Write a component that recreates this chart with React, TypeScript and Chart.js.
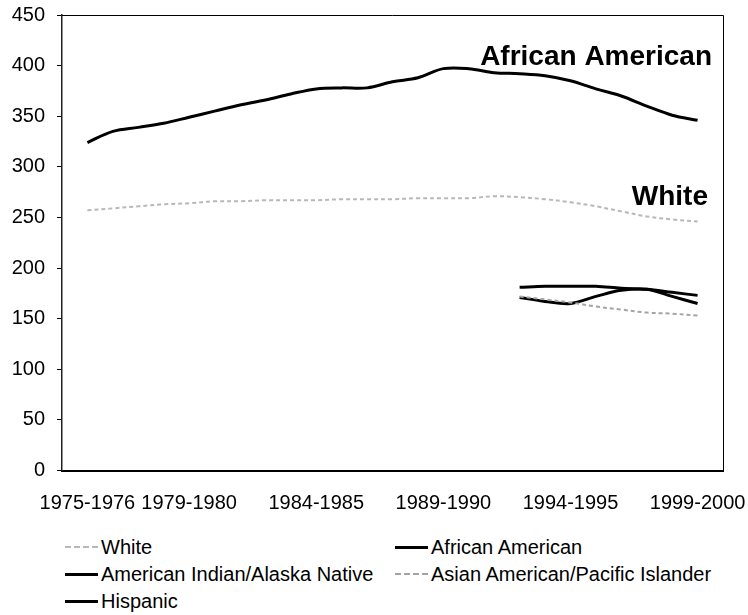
import React, { useEffect, useRef } from 'react';
import { Chart, registerables } from 'chart.js';

Chart.register(...registerables);

// ---- data ----
const schoolYears = [
  '1975-1976', '1976-1977', '1977-1978', '1978-1979', '1979-1980',
  '1980-1981', '1981-1982', '1982-1983', '1983-1984', '1984-1985',
  '1985-1986', '1986-1987', '1987-1988', '1988-1989', '1989-1990',
  '1990-1991', '1991-1992', '1992-1993', '1993-1994', '1994-1995',
  '1995-1996', '1996-1997', '1997-1998', '1998-1999', '1999-2000',
];
const minoritySchoolYears = [
  '1992-1993', '1993-1994', '1994-1995', '1995-1996',
  '1996-1997', '1997-1998', '1998-1999', '1999-2000',
];

const white = [257, 259, 261, 263, 264, 266, 266, 267, 267, 267, 268, 268, 268, 269, 269, 269, 271, 270, 268, 265, 261, 256, 251, 248, 246];
const africanAmerican = [324, 335, 339, 343, 349, 355, 361, 366, 372, 377, 378, 378, 384, 388, 397, 397, 393, 392, 390, 385, 377, 370, 360, 351, 346];
const americanIndian = [181, 182, 182, 182, 180, 179, 176, 173];
const asianAmerican = [172, 169, 166, 162, 159, 156, 155, 153];
const hispanic = [171, 167, 165, 172, 178, 179, 172, 165];

const xTickLabels = ['1975-1976', '1979-1980', '1984-1985', '1989-1990', '1994-1995', '1999-2000'];
const annotationLabels = ['African American', 'White'];

const seriesNames = [
  'White',
  'African American',
  'American Indian/Alaska Native',
  'Asian American/Pacific Islander',
  'Hispanic',
];

// ---- helpers ----
const startYear = (s: string) => parseInt(s.slice(0, 4), 10);
const toPoints = (years: string[], vals: number[]) =>
  years.map((y, i) => ({ x: startYear(y), y: vals[i] }));

const FONT = '"Liberation Sans", Arial, Helvetica, sans-serif';

const styles = [
  { color: '#b8b8b8', width: 2, dash: [4, 3] },
  { color: '#000', width: 3, dash: [] as number[] },
  { color: '#000', width: 3, dash: [] as number[] },
  { color: '#a4a4a4', width: 2, dash: [4, 3] },
  { color: '#000', width: 3, dash: [] as number[] },
];

const framePlugin = {
  id: 'frame',
  beforeDatasetsDraw(chart: any) {
    const { ctx, chartArea } = chart;
    ctx.save();
    ctx.strokeStyle = '#000';
    ctx.lineWidth = 1;
    ctx.beginPath();
    ctx.moveTo(chartArea.left, chartArea.top + 0.5);
    ctx.lineTo(chartArea.right + 0.5, chartArea.top + 0.5);
    ctx.lineTo(chartArea.right + 0.5, chartArea.bottom);
    ctx.stroke();
    ctx.restore();
  },
};

const annotationPlugin = {
  id: 'seriesAnnotations',
  afterDatasetsDraw(chart: any) {
    const { ctx, chartArea } = chart;
    ctx.save();
    ctx.font = `bold 28px ${FONT}`;
    ctx.fillStyle = '#000';
    ctx.textAlign = 'right';
    ctx.textBaseline = 'alphabetic';
    ctx.fillText(annotationLabels[0], chartArea.right - 11, chartArea.top + 50);
    ctx.fillText(annotationLabels[1], chartArea.right - 15, chartArea.top + 190);
    ctx.restore();
  },
};

export default function App() {
  const canvasRef = useRef<HTMLCanvasElement | null>(null);

  useEffect(() => {
    if (!canvasRef.current) return;
    const seriesData = [
      toPoints(schoolYears, white),
      toPoints(schoolYears, africanAmerican),
      toPoints(minoritySchoolYears, americanIndian),
      toPoints(minoritySchoolYears, asianAmerican),
      toPoints(minoritySchoolYears, hispanic),
    ];
    const chart = new Chart(canvasRef.current, {
      type: 'line',
      data: {
        datasets: seriesNames.map((name, i) => ({
          label: name,
          data: seriesData[i],
          borderColor: styles[i].color,
          borderWidth: styles[i].width,
          borderDash: styles[i].dash,
          pointRadius: 0,
          tension: 0.35,
          fill: false,
        })),
      },
      options: {
        responsive: false,
        animation: false,
        devicePixelRatio: 1,
        layout: { padding: { top: 15, right: 25, left: 0, bottom: 0 } },
        plugins: {
          legend: { display: false },
          tooltip: { enabled: false },
        },
        scales: {
          x: {
            type: 'linear',
            min: 1974,
            max: 2000,
            afterBuildTicks: (scale: any) => {
              scale.ticks = xTickLabels.map((l) => ({ value: startYear(l) }));
            },
            afterFit: (scale: any) => {
              scale.height = 54.5;
              scale.paddingLeft = 0;
              scale.paddingRight = 0;
            },
            grid: { display: false },
            border: { display: true, color: '#000', width: 2 },
            ticks: {
              autoSkip: false,
              maxRotation: 0,
              padding: 13,
              color: '#000',
              font: { family: FONT, size: 20 },
              callback: (value: any) => {
                const l = xTickLabels.find((t) => startYear(t) === Number(value));
                return l ?? '';
              },
            },
          },
          y: {
            min: 0,
            max: 450,
            afterFit: (scale: any) => {
              scale.width = 62;
              scale.paddingTop = 0;
              scale.paddingBottom = 0;
            },
            grid: {
              display: true,
              drawOnChartArea: false,
              drawTicks: true,
              tickLength: 5,
              color: '#000',
              lineWidth: 1,
            },
            border: { display: true, color: '#222', width: 1.5 },
            ticks: {
              stepSize: 50,
              padding: 12,
              color: '#000',
              font: { family: FONT, size: 20 },
            },
          },
        },
      },
      plugins: [framePlugin, annotationPlugin],
    });
    return () => chart.destroy();
  }, []);

  const legendRows = [547, 574, 601];
  const legendCols = [65, 395];

  return (
    <div
      style={{
        position: 'absolute',
        left: 0,
        top: 0,
        width: 748,
        height: 615,
        background: '#fff',
        fontFamily: FONT,
      }}
    >
      <canvas ref={canvasRef} width={748} height={525} style={{ display: 'block' }} />
      {seriesNames.map((name, i) => {
        const row = Math.floor(i / 2);
        const col = i % 2;
        const st = styles[i];
        return (
          <div
            key={name}
            style={{
              position: 'absolute',
              left: legendCols[col],
              top: legendRows[row] - 12,
              height: 24,
              display: 'flex',
              alignItems: 'center',
              whiteSpace: 'nowrap',
              fontSize: 20,
              color: '#000',
            }}
          >
            <div
              style={{
                width: 33,
                height: 0,
                borderTop: `${st.width}px ${st.dash.length ? 'dashed' : 'solid'} ${st.color}`,
                marginRight: 3,
              }}
            />
            <span>{name}</span>
          </div>
        );
      })}
    </div>
  );
}
